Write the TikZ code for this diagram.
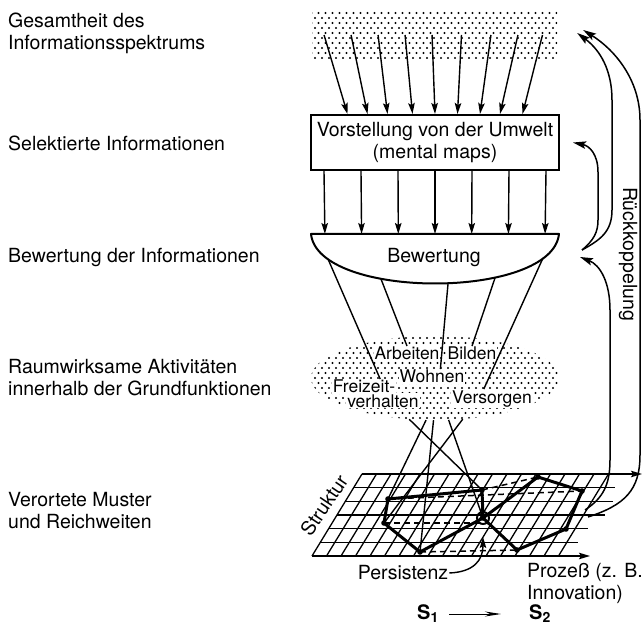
\documentclass[tikz,border=0pt]{standalone}
\usepackage{fontspec}
\setmainfont{TeX Gyre Heros}
\usetikzlibrary{shapes.geometric, arrows.meta, patterns, calc}

\pgfdeclarepatternformonly{punkte}{\pgfqpoint{-1pt}{-1pt}}{\pgfqpoint{6pt}{9pt}}{\pgfqpoint{7pt}{10pt}}{%
  \pgfpathcircle{\pgfqpoint{0pt}{0pt}}{1.05pt}%
  \pgfpathcircle{\pgfqpoint{3.5pt}{5pt}}{1.05pt}%
  \pgfusepath{fill}}

\tikzset{
  pfeil/.style={-{Stealth[length=11pt,width=6.5pt,inset=2pt]}, line width=1.4pt},
  rueck/.style={-{Stealth[length=13pt,width=7.5pt,inset=2.5pt]}, line width=1.5pt},
  linie/.style={line width=1.4pt},
  netz/.style={line width=1.3pt},
  muster/.style={line width=3pt, line join=round},
  spur/.style={dash pattern=on 6pt off 4pt, line width=1.5pt},
  schild/.style={align=left, anchor=west, inner sep=0pt},
  funktion/.style={font=\fontsize{17.5}{18}\selectfont, fill=white, inner sep=1pt, anchor=base},
  punktfeld/.style={pattern=punkte, pattern color=black, inner sep=0pt}
}

\begin{document}
\begin{tikzpicture}[x=1pt, y=-1pt, font=\fontsize{19.5}{22}\selectfont]
\useasboundingbox (0,0) rectangle (643,628);

\node[schild] (gesamt) at (8,33) {Gesamtheit des\\Informationsspektrums};
\node[schild] (selekt) at (8,143) {Selektierte Informationen};
\node[schild] (bewlab) at (8,257) {Bewertung der Informationen};
\node[schild] (raum) at (8,378) {Raumwirksame Aktivitäten\\innerhalb der Grundfunktionen};
\node[schild] (verort) at (8,511) {Verortete Muster\\und Reichweiten};

\node[punktfeld, minimum width=245pt, minimum height=50pt] (spek) at (434.5,35) {};
\node[draw, line width=2pt, minimum width=248pt, minimum height=55pt, inner sep=0pt, align=center] (umwelt) at (435,142.5) {Vorstellung von der Umwelt\\(mental maps)};

\foreach \a/\b in {.05/.15,.16/.23,.27/.31,.38/.41,.49/.50,.61/.59,.73/.68,.84/.76,.94/.85}
  \draw[pfeil] ($(spek.west)!\a!(spek.east)$) -- ($(umwelt.north west)!\b!(umwelt.north east)$);

\coordinate (bwl) at (311,234);
\coordinate (bwr) at (559,234);
\draw[line width=2pt, line join=round] (bwl) -- (bwr) .. controls (552,300) and (318,300) .. (bwl) -- cycle;
\node (bew) at (434,258) {Bewertung};

\foreach \t in {0.056,0.204,0.352,0.5,0.648,0.796,0.944}
  \draw[pfeil] ($(umwelt.south west)!\t!(umwelt.south east)$) -- ($(bwl)!\t!(bwr)$);

\node[ellipse, punktfeld, minimum width=248pt, minimum height=84pt] (akt) at (435,378) {};
\node[funktion] (arbeiten) at (407,360) {Arbeiten};
\node[funktion] (bilden) at (472,360) {Bilden};
\node[funktion] (wohnen) at (432,383) {Wohnen};
\node[funktion] (freizeit) at (364,393) {Freizeit-};
\node[funktion] (verhalten) at (383,407) {verhalten};
\node[funktion] (versorgen) at (492,403) {Versorgen};

\coordinate (b1) at (328,259);
\coordinate (b2) at (381,279);
\coordinate (b3) at (448,284);
\coordinate (b4) at (495,278);
\coordinate (b5) at (543,258);
\draw[linie] (b1) -- ($(freizeit.north)!.5!(freizeit.north east)$);
\draw[linie] (b2) -- (arbeiten.north);
\draw[linie] (b3) -- ($(wohnen.north)!.25!(wohnen.north east)$);
\draw[linie] (b4) -- (bilden.north);
\draw[linie] (b5) -- ($(versorgen.north west)!.4!(versorgen.north east)$);

\coordinate (s1a) at (388,499);
\coordinate (s1b) at (482,490);
\coordinate (zc) at (483,518);
\coordinate (s1d) at (420,552);
\coordinate (s1e) at (384,523);
\coordinate (s2a) at (538,477);
\coordinate (s2b) at (582,491);
\coordinate (s2c) at (566,529);
\coordinate (s2d) at (517,550);

\draw[linie] (akt.238) -- (s1b);
\draw[linie] (akt.258) -- (s1a);
\draw[linie] (akt.268) -- (s1d);
\draw[linie] (akt.288) -- (zc);
\draw[linie] (akt.304) -- (s1e);

\foreach \i in {0,...,17}
  \draw[netz] ({312+14.5*\i},556) -- ({362+14.5*\i},474);
\foreach \j/\r in {1/615,2/613,3/605,4/588,5/578}
  \draw[netz] ({362-8.333*\j},{474+13.667*\j}) -- (\r,{474+13.667*\j});
\draw[netz, pfeil] (362,474) -- (642,474);
\draw[netz, pfeil] (312,556) -- (590,556);

\draw[muster] (s1a) -- (s1b) -- (zc) -- (s1d) -- (s1e) -- cycle;
\draw[muster] (zc) -- (s2a) -- (s2b) -- (s2c) -- (s2d) -- cycle;
\draw[spur] (s1a) -- (s2b);
\draw[spur] (s1b) -- (s2a);
\draw[spur] (s1e) -- (zc |- s1e);
\draw[spur] (s1d) -- (s2d);
\foreach \p in {s1a,s1b,s1d,s1e,s2a,s2b,s2c,s2d}
  \fill (\p) circle (2.8pt);
\draw[line width=2pt] (zc) circle (6pt);
\fill (zc) circle (2.8pt);

\node[rotate=56, inner sep=0pt] (struktur) at (324,505) {Struktur};
\node[inner sep=1pt] (pers) at (403,573) {Persistenz};
\draw[pfeil] (pers.east) .. controls (474,572) and (483,560) .. ($(zc)+(0,19)$);
\node[schild] (prozess) at (527,583) {Prozeß (z. B.\\Innovation)};

\node[font=\bfseries\fontsize{20}{20}\selectfont, inner sep=0pt] (zustand1) at (428,614) {S\textsubscript{1}};
\node[font=\bfseries\fontsize{20}{20}\selectfont, inner sep=0pt] (zustand2) at (540,614) {S\textsubscript{2}};
\draw[-{Stealth[length=16pt,width=5pt]}, line width=1pt, shorten <=10pt, shorten >=28pt] (zustand1) -- (zustand2);

\node[rotate=-90, inner sep=0pt] (rueck) at (628,254) {Rückkoppelung};
\coordinate (r1) at (588,517);
\coordinate (r2) at (585,510);
\coordinate (kn) at (582,250);
\draw[rueck] (r1) .. controls (625,505) and (640,490) .. (640,455) -- (640,120) .. controls (640,80) and (615,50) .. ($(spek.east)+(26,-5)$);
\draw[rueck] (r2) .. controls (603,498) and (610,485) .. (610,460) -- (610,310) .. controls (610,282) and (600,265) .. ($(bwr)+(21,23)$);
\draw[rueck] (kn) .. controls (600,240) and (612,232) .. (612,210) -- (612,100) .. controls (612,70) and (600,50) .. ($(spek.east)+(20,-2)$);
\draw[rueck] (kn) .. controls (594,240) and (598,232) .. (598,220) -- (598,172) .. controls (598,155) and (590,146) .. ($(umwelt.east)+(13,0)$);
\end{tikzpicture}
\end{document}
